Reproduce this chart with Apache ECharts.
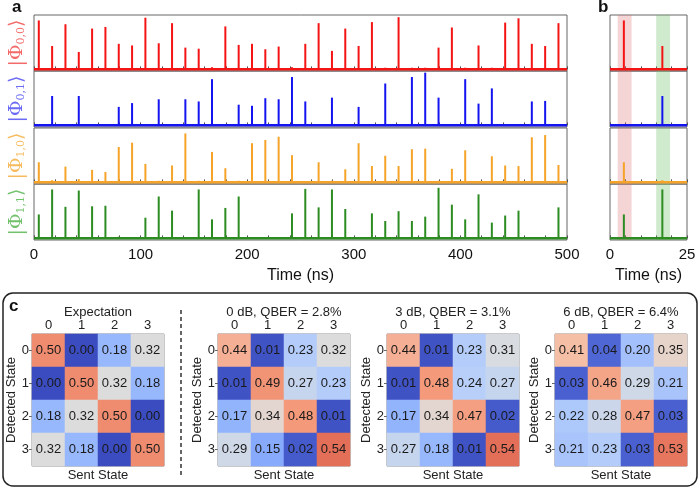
<!DOCTYPE html>
<html>
<head>
<meta charset="utf-8">
<script src="https://cdn.jsdelivr.net/npm/echarts@6/dist/echarts.min.js"></script>
<style>
  html, body { margin: 0; padding: 0; background: #fff; }
  #chart { width: 700px; height: 489px; }
</style>
</head>
<body>
<div id="chart"></div>
<script>
// pulse slots (ns)
const slotTimes = [4.5, 17, 29.5, 42, 54.5, 67, 79.5, 92, 104.5, 117, 129.5, 142, 154.5, 167, 179.5, 192,
  204.5, 217, 229.5, 242, 254.5, 267, 279.5, 292, 304.5, 317, 329.5, 342, 354.5, 367, 379.5, 392,
  404.5, 417, 429.5, 442, 454.5, 467, 479.5, 492];

// normalised pulse heights per state
const phi00 = [0.90, 0.43, 0.83, 0.32, 0.75, 0.78, 0.47, 0.44, 0.95, 0.48,
  0.85, 0.40, 0.38, 0.04, 0.79, 0.45, 0.47, 0.37, 0.42, 0.04,
  0.47, 0.85, 0.34, 0.75, 0.43, 0.87, 0.03, 0.96, 0.03, 0.03,
  0.40, 0.77, 0.03, 0.44, 0.03, 0.86, 0.94, 0.47, 0.43, 0.85];
const phi01 = [0.02, 0.54, 0.02, 0.54, 0.02, 0.02, 0.34, 0.41, 0.02, 0.48,
  0.02, 0.48, 0.44, 0.85, 0.02, 0.38, 0.36, 0.50, 0.48, 0.89,
  0.44, 0.02, 0.51, 0.02, 0.34, 0.02, 0.77, 0.02, 0.89, 0.97,
  0.51, 0.02, 0.85, 0.40, 0.68, 0.02, 0.02, 0.44, 0.45, 0.02];
const phi10 = [0.37, 0.04, 0.29, 0.06, 0.23, 0.19, 0.65, 0.73, 0.34, 0.03,
  0.31, 0.90, 0.03, 0.56, 0.26, 0.03, 0.72, 0.78, 0.84, 0.50,
  0.02, 0.37, 0.03, 0.24, 0.72, 0.30, 0.49, 0.30, 0.61, 0.62,
  0.03, 0.25, 0.59, 0.02, 0.48, 0.31, 0.30, 0.83, 0.87, 0.32];
const phi11 = [0.44, 0.90, 0.58, 0.88, 0.59, 0.60, 0.03, 0.01, 0.38, 0.77,
  0.51, 0.02, 0.90, 0.35, 0.56, 0.77, 0.02, 0.01, 0.01, 0.46,
  0.91, 0.57, 0.90, 0.54, 0.02, 0.46, 0.32, 0.50, 0.32, 0.40,
  0.93, 0.62, 0.35, 0.81, 0.29, 0.42, 0.51, 0.01, 0.01, 0.57];

const stateNames = ['0,0', '0,1', '1,0', '1,1'];
const stateValues = [phi00, phi01, phi10, phi11];
const pulseColors = ['#f41414', '#1414f0', '#f5a329', '#2c8c22'];
const labelColors = ['#f26a6a', '#6a6af5', '#f5bb5e', '#72c26c'];

// panel b windows (ns)
const earlyBand = [2.5, 7];
const lateBand = [15, 19.5];

// confusion matrices: rows = detected state, cols = sent state
const matrixTitles = ['Expectation', '0 dB, QBER = 2.8%', '3 dB, QBER = 3.1%', '6 dB, QBER = 6.4%'];
const stateLabels = ['0', '1', '2', '3'];
const mExpect = [[0.50, 0.00, 0.18, 0.32], [0.00, 0.50, 0.32, 0.18], [0.18, 0.32, 0.50, 0.00], [0.32, 0.18, 0.00, 0.50]];
const m0dB = [[0.44, 0.01, 0.23, 0.32], [0.01, 0.49, 0.27, 0.23], [0.17, 0.34, 0.48, 0.01], [0.29, 0.15, 0.02, 0.54]];
const m3dB = [[0.44, 0.01, 0.23, 0.31], [0.01, 0.48, 0.24, 0.27], [0.17, 0.34, 0.47, 0.02], [0.27, 0.18, 0.01, 0.54]];
const m6dB = [[0.41, 0.04, 0.20, 0.35], [0.03, 0.46, 0.29, 0.21], [0.22, 0.28, 0.47, 0.03], [0.21, 0.23, 0.03, 0.53]];
const matrices = [mExpect, m0dB, m3dB, m6dB];

const coolwarm = ['#3b4cc0', '#6282ea', '#8db0fe', '#b8d0f9', '#dddcdc', '#f5c4ac', '#f49a7b', '#de604d', '#b40426'];

const FONT = 'Liberation Sans';
const rowTops = [15, 71, 128, 184];
const rowH = 56;
const heatLefts = [32, 218, 387, 555];

const grid = [], xAxis = [], yAxis = [], series = [], title = [];

// panel a + b rows
stateValues.forEach((vals, r) => {
  const last = r === 3;
  [[32, 133, 0, 500, 20, 100], [610, 13, 0, 25, 5, 25]].forEach((g, p) => {
    const gi = grid.length;
    grid.push({ left: g[0], right: g[1], top: rowTops[r], height: rowH, show: true,
      borderColor: '#666', borderWidth: 1, backgroundColor: 'transparent' });
    xAxis.push({
      type: 'value', gridIndex: gi, min: g[2], max: g[3], interval: g[4],
      axisLine: { show: false },
      axisTick: { show: true, inside: true, length: 3, lineStyle: { color: '#555' } },
      splitLine: { show: false },
      axisLabel: {
        show: last, fontSize: 15, fontFamily: FONT, color: '#111', margin: 7,
        formatter: v => (v % g[5] === 0 ? String(v) : '')
      },
      name: last ? 'Time (ns)' : '', nameLocation: 'middle', nameGap: 28,
      nameTextStyle: { fontSize: 16, fontFamily: FONT, color: '#111' }
    });
    yAxis.push({
      type: 'value', gridIndex: gi, min: -0.03, max: 1,
      axisLine: { show: false }, axisTick: { show: false }, axisLabel: { show: false },
      splitLine: { show: false },
      name: p === 0 ? '|Φ{s|' + stateNames[r] + '}⟩' : '',
      nameLocation: 'middle', nameRotate: 90, nameGap: 7,
      nameTextStyle: {
        fontSize: 19, fontFamily: 'DejaVu Serif', color: labelColors[r],
        rich: { s: { fontSize: 11, fontFamily: 'DejaVu Serif', color: labelColors[r], padding: [8, 0, 0, 0] } }
      }
    });
    const pts = slotTimes.map((t, i) => [t, vals[i]]).filter(d => d[0] <= g[3]);
    const bar = {
      type: 'bar', xAxisIndex: gi, yAxisIndex: gi, barWidth: 2, data: pts,
      itemStyle: { color: pulseColors[r] }, silent: true, z: 3
    };
    if (p === 1) {
      bar.markArea = {
        silent: true,
        data: [
          [{ xAxis: earlyBand[0], itemStyle: { color: 'rgba(214,100,100,0.28)' } }, { xAxis: earlyBand[1] }],
          [{ xAxis: lateBand[0], itemStyle: { color: 'rgba(110,190,100,0.32)' } }, { xAxis: lateBand[1] }]
        ]
      };
    }
    series.push(bar);
    series.push({
      type: 'line', xAxisIndex: gi, yAxisIndex: gi, data: [[g[2], 0], [g[3], 0]],
      symbol: 'none', lineStyle: { color: pulseColors[r], width: 2.5 }, silent: true, z: 4
    });
  });
});

// panel c heatmaps
const heatSeries = [];
matrices.forEach((m, k) => {
  const gi = grid.length;
  grid.push({ left: heatLefts[k], width: 132, top: 334, height: 132, show: true,
    borderColor: '#888', borderWidth: 1, backgroundColor: 'transparent' });
  xAxis.push({
    type: 'category', gridIndex: gi, position: 'top', data: stateLabels,
    axisLine: { show: false },
    axisTick: { show: true, alignWithLabel: true, length: 3, inside: true, lineStyle: { color: '#666' } },
    axisLabel: { fontSize: 13, fontFamily: FONT, color: '#222', margin: 2 },
    splitLine: { show: false }
  });
  yAxis.push({
    type: 'category', gridIndex: gi, data: stateLabels, inverse: true,
    axisLine: { show: false },
    axisTick: { show: true, alignWithLabel: true, length: 3, lineStyle: { color: '#666' } },
    axisLabel: { fontSize: 13, fontFamily: FONT, color: '#222', margin: 3 },
    splitLine: { show: false },
    name: 'Detected State', nameLocation: 'middle', nameRotate: 90, nameGap: 13,
    nameTextStyle: { fontSize: 13, fontFamily: FONT, color: '#222' }
  });
  // bottom axis only for the "Sent State" name
  xAxis.push({
    type: 'category', gridIndex: gi, position: 'bottom', data: stateLabels,
    axisLine: { show: false }, axisTick: { show: false }, axisLabel: { show: false },
    name: 'Sent State', nameLocation: 'middle', nameGap: 3,
    nameTextStyle: { fontSize: 13, fontFamily: FONT, color: '#222' }
  });
  const data = [];
  m.forEach((row, i) => row.forEach((v, j) => data.push([j, i, v])));
  heatSeries.push(series.length);
  series.push({
    type: 'heatmap', xAxisIndex: xAxis.length - 2, yAxisIndex: yAxis.length - 1, data: data,
    label: { show: true, fontSize: 13, fontFamily: FONT, color: '#1a1a1a',
      formatter: p => p.value[2].toFixed(2) },
    itemStyle: { borderWidth: 0 }, silent: true
  });
  title.push({
    text: matrixTitles[k], left: heatLefts[k] + 66, top: 306, textAlign: 'center', padding: 0,
    textStyle: { fontSize: 13, fontWeight: 'normal', fontFamily: FONT, color: '#222' }
  });
});

const chart = echarts.init(document.getElementById('chart'), null, { renderer: 'canvas' });
chart.setOption({
  animation: false,
  backgroundColor: '#fff',
  title: title,
  grid: grid,
  xAxis: xAxis,
  yAxis: yAxis,
  visualMap: {
    type: 'continuous', show: false, min: 0, max: 0.64, dimension: 2,
    seriesIndex: heatSeries, inRange: { color: coolwarm }
  },
  graphic: [
    { type: 'rect', shape: { x: 3, y: 293, width: 694, height: 193, r: 10 },
      style: { fill: 'none', stroke: '#222', lineWidth: 1.5 }, z: -1 },
    { type: 'line', shape: { x1: 181, y1: 310, x2: 181, y2: 475 },
      style: { stroke: '#333', lineWidth: 1.5, lineDash: [4, 3] } },
    { type: 'text', left: 12, top: -1, style: { text: 'a', fontSize: 17, fontWeight: 'bold', fontFamily: FONT, fill: '#111' } },
    { type: 'text', left: 598, top: -1, style: { text: 'b', fontSize: 17, fontWeight: 'bold', fontFamily: FONT, fill: '#111' } },
    { type: 'text', left: 9, top: 298, style: { text: 'c', fontSize: 17, fontWeight: 'bold', fontFamily: FONT, fill: '#111' } }
  ],
  series: series
});
</script>
</body>
</html>
